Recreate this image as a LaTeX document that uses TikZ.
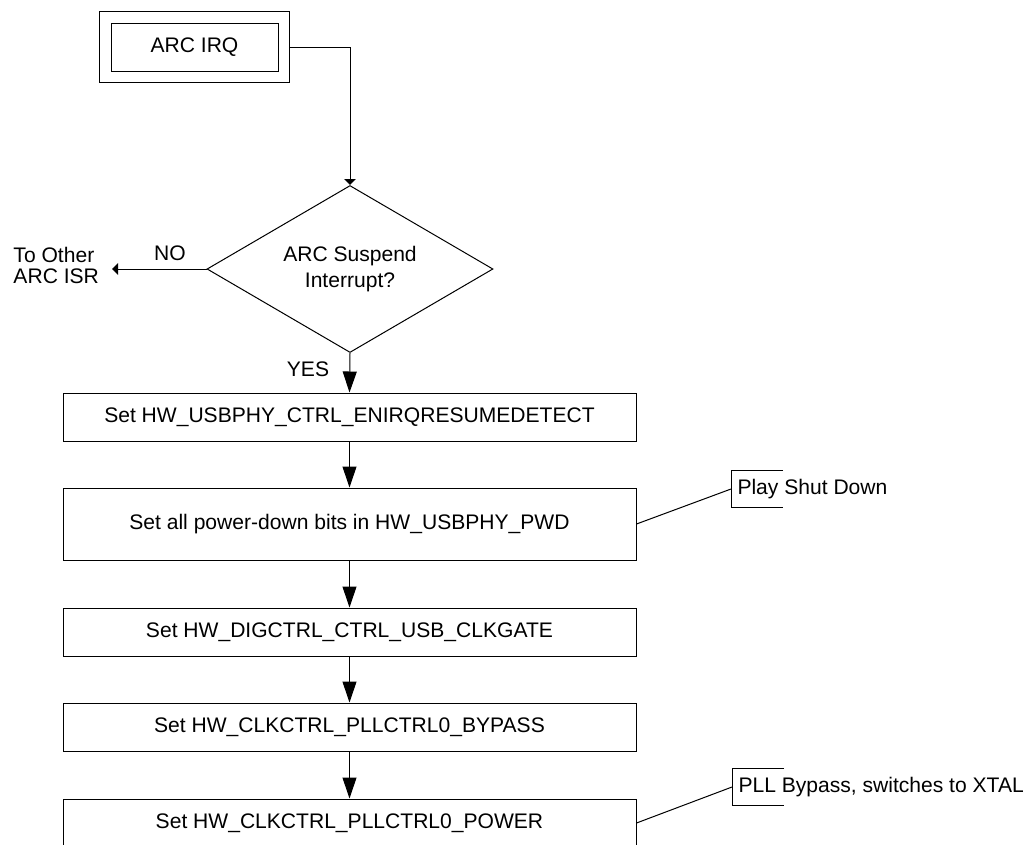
\documentclass[tikz,border=0pt]{standalone}
\usepackage{fontspec}
\setmainfont{Liberation Sans}
\usetikzlibrary{shapes.geometric,arrows.meta,fit}
\tikzset{
  stepbox/.style={draw, minimum width=429.75pt, minimum height=36pt, inner sep=0pt},
  notebox/.style={anchor=west, inner xsep=4.5pt, inner ysep=0pt, minimum height=27pt},
  bigtip/.style={-{Triangle[length=15.75pt,width=10.5pt]}},
  smalltip/.style={-{Triangle[length=4.5pt,width=8.5pt]}},
}
\begin{document}
\begin{tikzpicture}[x=0.75pt, y=-0.75pt, line width=0.75pt, font=\fontsize{15.8}{19}\selectfont]
        \useasboundingbox (0,0) rectangle (1025,844);

        \node[draw, minimum width=125.25pt, minimum height=36pt, inner sep=0pt] (irq) at (194.5,47) {ARC IRQ};
        \node[draw, fit=(irq), inner sep=8.5pt] (irqframe) {};

        \node[diamond, draw, aspect=1.7, inner sep=0pt, minimum width=214.5pt, minimum height=125.25pt,
              align=center, font=\fontsize{15.8}{19.5}\selectfont] (susp) at (350,269) {ARC Suspend\\Interrupt?};

        \node[stepbox] (enirq) at (349.5,417) {Set HW\_USBPHY\_CTRL\_ENIRQRESUMEDETECT};
        \node[stepbox, minimum height=54pt] (pwd) at (349.5,524) {Set all power-down bits in HW\_USBPHY\_PWD};
        \node[stepbox] (clkgate) at (349.5,632) {Set HW\_DIGCTRL\_CTRL\_USB\_CLKGATE};
        \node[stepbox] (bypass) at (349.5,727) {Set HW\_CLKCTRL\_PLLCTRL0\_BYPASS};
        \node[stepbox] (power) at (349.5,823) {Set HW\_CLKCTRL\_PLLCTRL0\_POWER};

        \node[notebox] (shut) at (731,489) {Play Shut Down};
        \node[notebox] (xtal) at (732,787) {PLL Bypass, switches to XTAL};
        \draw ([xshift=39pt]shut.north west) -- (shut.north west) -- (shut.south west) -- ++(39pt,0);
        \draw ([xshift=39pt]xtal.north west) -- (xtal.north west) -- (xtal.south west) -- ++(39pt,0);
        \draw (pwd.east) -- (shut.west);
        \draw (power.east) -- (xtal.west);

        \node[anchor=west, align=left, inner sep=0pt, font=\fontsize{15.8}{15.8}\selectfont] (otherisr) at (13,265.5) {To Other\\ARC ISR};
        \coordinate (other) at (112,269);
        \node (no) at (170,253) {NO};
        \node (yes) at (308,369) {YES};

        \draw[smalltip] (irqframe.east) -| (susp.north);
        \draw[smalltip] (susp.west) -- (other);
        \draw[bigtip] (susp.south) -- (enirq.north);
        \foreach \a/\b in {enirq/pwd, pwd/clkgate, clkgate/bypass, bypass/power}
            \draw[bigtip] (\a.south) -- (\b.north);
\end{tikzpicture}
\end{document}
